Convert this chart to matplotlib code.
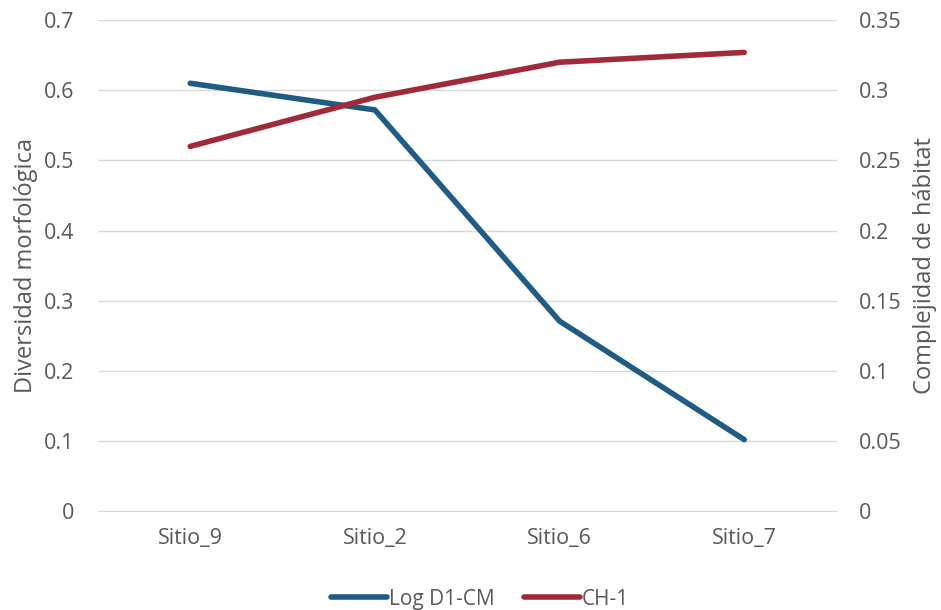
import matplotlib.pyplot as plt

# Datos
sitios = ['Sitio_9', 'Sitio_2', 'Sitio_6', 'Sitio_7']
log_d1_cm = [0.61, 0.572, 0.271, 0.102]
ch_1 = [0.260, 0.295, 0.320, 0.327]

plt.rcParams['font.family'] = ['Open Sans', 'DejaVu Sans']
gris = '#595959'

fig = plt.figure(figsize=(9.41, 6.10), dpi=100)
ax = fig.add_axes([0.104, 0.162, 0.785, 0.805])
ax2 = ax.twinx()

x = range(len(sitios))
l1, = ax.plot(x, log_d1_cm, color='#1f5b82', lw=4, solid_capstyle='round', label='Log D1-CM')
l2, = ax2.plot(x, ch_1, color='#a12a3a', lw=4, solid_capstyle='round', label='CH-1')

ax.set_xlim(-0.5, 3.5)
ax.set_ylim(0, 0.7)
ax2.set_ylim(0, 0.35)
ax.set_yticks([i / 10 for i in range(8)])
ax.set_yticklabels(['0'] + [f'{i / 10:g}' for i in range(1, 8)])
ax2.set_yticks([i * 0.05 for i in range(8)])
ax2.set_yticklabels(['0'] + [f'{i * 0.05:g}' for i in range(1, 8)])
ax.set_xticks(list(x))
ax.set_xticklabels(sitios)

ax.grid(axis='y', color='#d9d9d9', lw=1)
ax.set_axisbelow(True)
for a in (ax, ax2):
    for s in a.spines.values():
        s.set_visible(False)
    a.tick_params(length=0, colors=gris, labelsize=15.5)
ax.spines['bottom'].set_visible(True)
ax.spines['bottom'].set_color('#d9d9d9')
ax.tick_params(axis='x', pad=12)
ax.tick_params(axis='y', pad=17)
ax2.tick_params(axis='y', pad=16)

ax.set_ylabel('Diversidad morfológica', color=gris, fontsize=17, labelpad=4)
ax2.set_ylabel('Complejidad de hábitat', color=gris, fontsize=17, labelpad=8)

fig.legend(handles=[l1, l2], loc='lower center', bbox_to_anchor=(0.51, -0.03), ncol=2,
           frameon=False, fontsize=15, labelcolor=gris, handlelength=2.7,
           handletextpad=0.1, columnspacing=1.4)

fig.savefig('out.png', dpi=100)
